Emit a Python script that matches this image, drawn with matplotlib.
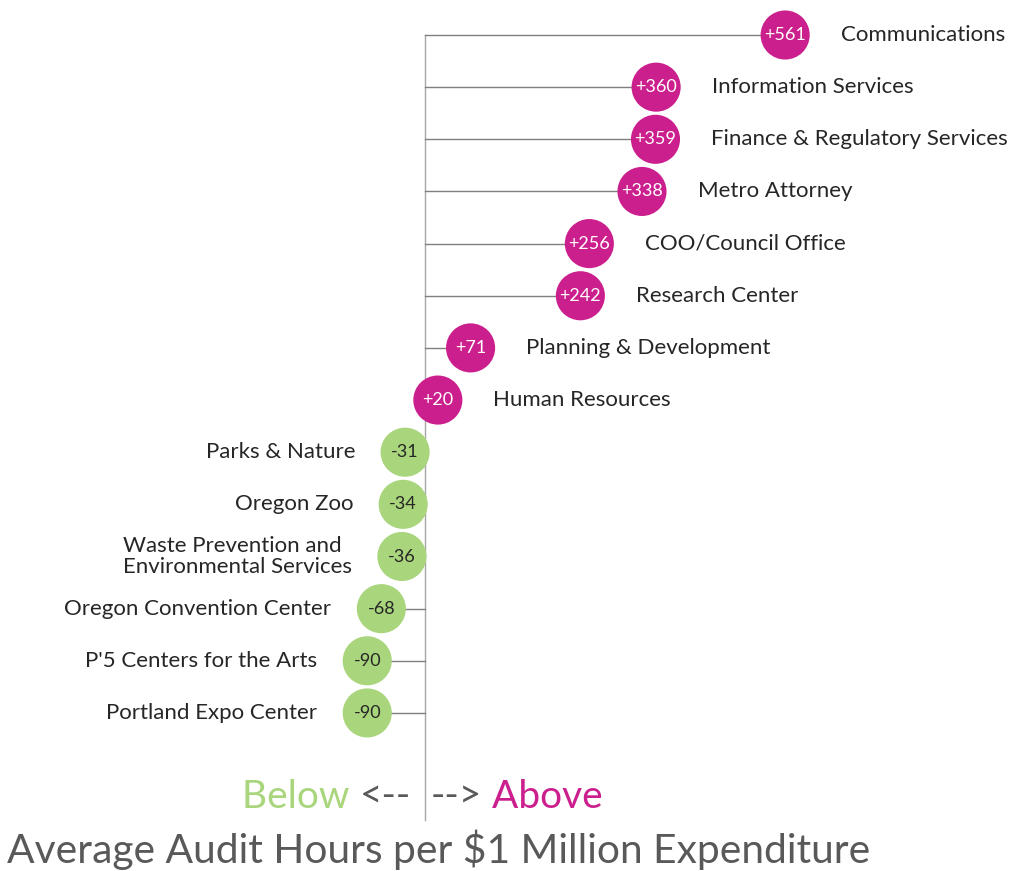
import matplotlib.pyplot as plt

departments = ["Communications", "Information Services", "Finance & Regulatory Services",
               "Metro Attorney", "COO/Council Office", "Research Center",
               "Planning & Development", "Human Resources", "Parks & Nature",
               "Oregon Zoo", "Waste Prevention and\nEnvironmental Services",
               "Oregon Convention Center", "P'5 Centers for the Arts",
               "Portland Expo Center"]
diff_hours = [561, 360, 359, 338, 256, 242, 71, 20, -31, -34, -36, -68, -90, -90]

MAGENTA = "#CC1F8E"
GREEN = "#A9D57C"
GRAY = "#595959"
plt.rcParams["font.family"] = ["Lato", "DejaVu Sans"]

fig = plt.figure(figsize=(10.21, 8.71), dpi=100)
ax = fig.add_axes([0, 0, 1, 1])
# 0 sits at x=425px, ~0.642 px per hour; rows ~52px apart starting at 35px
px = 0.642
ax.set_xlim(-425 / px, (1021 - 425) / px)
row = 52.15
ax.set_ylim((871 - 35) / row, -35 / row)
ax.axis("off")

ys = list(range(len(departments)))
ax.plot([0, 0], [0, (820 - 35) / row], color="#A6A6A6", lw=1, zorder=1)
for y, v in zip(ys, diff_hours):
    ax.plot([0, v], [y, y], color="#7F7F7F", lw=1, zorder=1)

colors = [MAGENTA if v > 0 else GREEN for v in diff_hours]
ax.scatter(diff_hours, ys, s=1250, c=colors, edgecolors="none", zorder=2)

for y, v, name in zip(ys, diff_hours, departments):
    pos = v > 0
    ax.text(v, y, f"+{v}" if pos else f"{v}", ha="center", va="center",
            fontsize=13, color="white" if pos else "#262626", zorder=3)
    ax.annotate(name, (v, y), xytext=(40 if pos else -36, 0), textcoords="offset points",
                ha="left" if pos else "right", va="center", fontsize=16,
                color="#262626", multialignment="left", linespacing=1.05)

# Below <-- | --> Above
yb = (797 - 35) / row
t1 = ax.annotate("<--", (0, yb), xytext=(-10, 0), textcoords="offset points",
                 ha="right", va="center", fontsize=28, color=GRAY)
ax.annotate("Below ", (0, 0.5), xycoords=t1, ha="right", va="center",
            fontsize=28, color=GREEN)
t2 = ax.annotate("-->", (0, yb), xytext=(4, 0), textcoords="offset points",
                 ha="left", va="center", fontsize=28, color=GRAY)
ax.annotate(" Above", (1, 0.5), xycoords=t2, ha="left", va="center",
            fontsize=28, color=MAGENTA)

fig.text(439 / 1021, 1 - 850 / 871, "Average Audit Hours per $1 Million Expenditure",
         ha="center", va="center", fontsize=29.3, color=GRAY)

fig.savefig("out.png", dpi=100, facecolor="white")
